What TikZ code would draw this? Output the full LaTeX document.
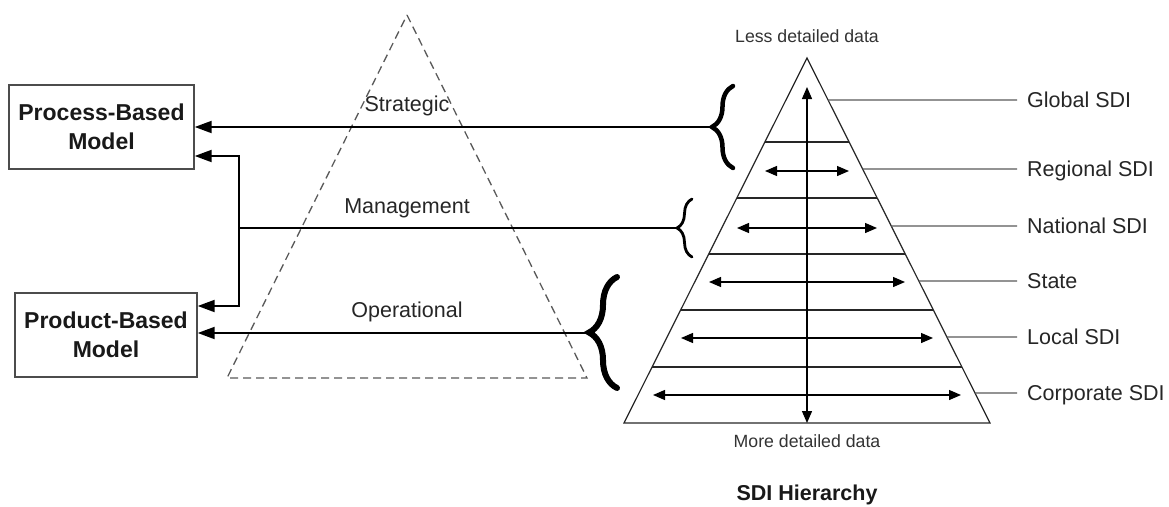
\documentclass[tikz,border=0pt]{standalone}
\usepackage{fontspec}
\setmainfont{Liberation Sans}
\usetikzlibrary{arrows.meta,calc,decorations.pathreplacing}

\begin{document}
\begin{tikzpicture}[x=1pt,y=-1pt,
  model/.style={draw=black!70, line width=1.4pt, inner sep=0pt, align=center,
    text=black!90, font=\fontsize{23}{29}\selectfont\bfseries},
  conn/.style={line width=2pt, -{Triangle[length=17pt,width=12pt]}},
  link/.style={line width=2pt},
  curly/.style={decorate, decoration={brace, amplitude=#1}, line cap=round},
  levelbox/.style={draw=black!65, line width=1.3pt, dash pattern=on 8pt off 5pt},
  tier/.style={line width=1.2pt, draw=black!85},
  spread/.style={line width=1.3pt, {Triangle[length=12pt,width=10pt]}-{Triangle[length=12pt,width=10pt]}},
  tag/.style={line width=1.4pt, draw=black!65},
  lvl/.style={font=\fontsize{21.5}{24}\selectfont, text=black!85, inner sep=0pt},
  small/.style={font=\fontsize{17.7}{20}\selectfont, text=black!80, inner sep=0pt}
]
\useasboundingbox (0,0) rectangle (1169,506);

% model boxes
\node[model, minimum width=185pt, minimum height=84pt] (proc) at (101.5,127) {Process-Based\\Model};
\node[model, minimum width=182pt, minimum height=84pt] (prod) at (106,335) {Product-Based\\Model};

% management pyramid
\coordinate (mtop) at (407,15);
\coordinate (mbl) at (227,378);
\coordinate (mbr) at (587,378);
\draw[levelbox] (mtop) -- (mbr) -- (mbl) -- cycle;
\node[lvl, anchor=base] (strat) at (407,111) {Strategic};
\node[lvl, anchor=base] (mgmt) at (407,213) {Management};
\node[lvl, anchor=base] (oper) at (407,317) {Operational};

% braces
\draw[curly=21pt, line width=4.5pt] (733,168) -- (733,86);
\coordinate (stip) at (712,127);
\draw[curly=15pt, line width=2.8pt] (692,257) -- (692,199);
\coordinate (mtip) at (677,228);
\draw[curly=28pt, line width=6pt] (617,388) -- (617,277);
\coordinate (otip) at (589,333);

% connectors to the model boxes
\coordinate (junc) at (239,228);
\draw[conn] (stip) -- (stip -| proc.east);
\draw[link] (mtip) -- (junc);
\draw[conn] (junc) |- ($(proc.east)+(0,29)$);
\draw[conn] (junc) |- ($(prod.east)+(0,-29)$);
\draw[conn] (otip) -- (otip -| prod.east);

% SDI pyramid
\coordinate (apex) at (807,58);
\coordinate (bl) at (624,423);
\coordinate (br) at (990,423);
\draw[tier] (apex) -- (br) -- (bl) -- cycle;
\foreach \t in {0.2301,0.3836,0.5370,0.6904,0.8466}
  \draw[tier] ($(apex)!\t!(bl)$) -- ($(apex)!\t!(br)$);
\foreach \y/\h in {171/42, 228/70, 282/98, 338/126, 395/154}
  \draw[spread] (807-\h,\y) -- (807+\h,\y);
\draw[spread] (807,423) -- (807,87);

\node[small, anchor=base] (less) at (807,42) {Less detailed data};
\node[small, anchor=base] (more) at (807,447) {More detailed data};
\node[anchor=base, inner sep=0pt, text=black!90, font=\fontsize{21.5}{24}\selectfont\bfseries] (title) at (807,500) {SDI Hierarchy};

% level labels
\foreach \y/\name [count=\i] in {100/Global SDI, 169/Regional SDI, 226/National SDI, 281/State, 337/Local SDI, 393/Corporate SDI}{
  \pgfmathsetmacro{\t}{(\y-58)/365}
  \coordinate (e\i) at ($(apex)!\t!(br)$);
  \coordinate (f\i) at (1017,\y);
  \draw[tag] (e\i) -- (f\i);
  \node[lvl, anchor=base west] (n\i) at (1027,\y+7.5) {\name};
}
\end{tikzpicture}
\end{document}
